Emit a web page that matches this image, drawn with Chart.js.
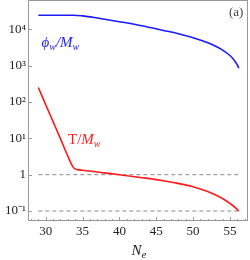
<!DOCTYPE html>
<html>
<head>
<meta charset="utf-8">
<script src="https://cdn.jsdelivr.net/npm/chart.js@4/dist/chart.umd.min.js"></script>
<style>body{margin:0;background:#fff}</style>
</head>
<body>
<canvas id="chart" width="250" height="260"></canvas>
<script>
// phi_w / M_w (blue)
var neBlue = [29, 33.8, 35, 37, 40, 43, 46, 48, 50, 52, 53, 54, 55, 55.5, 56, 56.2];
var phiOverM = [24500, 24500, 23400, 20400, 16200, 12600, 9330, 7590, 5890, 4270, 3470, 2690, 1905, 1480, 1047, 851];

// T / M_w (red)
var neRed = [29, 30, 31, 32, 33, 33.6, 33.9, 34.3, 35, 36, 38, 40, 42.8, 45, 47.3, 50, 51.8, 53, 54.1, 55, 55.7, 56.2];
var tOverM = [251, 85, 28.8, 9.8, 3.24, 1.78, 1.48, 1.38, 1.32, 1.26, 1.12, 1.0, 0.84, 0.733, 0.61, 0.468, 0.355, 0.279, 0.214, 0.162, 0.126, 0.1];

// dashed reference levels
var refLevels = [1, 0.1];
var refRange = [29, 56.2];

var xTicks = [30, 35, 40, 45, 50, 55];
var yTicks = [0.1, 1, 10, 100, 1000, 10000];
var yTickLabels = ['10\u207B\u00B9', '1', '10\u00B9', '10\u00B2', '10\u00B3', '10\u2074'];

var SERIF = 'Liberation Serif';

function zip(xs, ys) {
    var pts = [];
    for (var i = 0; i < xs.length; i++) pts.push({ x: xs[i], y: ys[i] });
    return pts;
}

function drawRich(ctx, x, y, parts, color) {
    ctx.fillStyle = color;
    ctx.textBaseline = 'alphabetic';
    ctx.textAlign = 'left';
    parts.forEach(function (p) {
        ctx.font = p.f;
        ctx.fillText(p.t, x, y + (p.dy || 0));
        x += ctx.measureText(p.t).width + (p.gap || 0);
    });
}

var framePlugin = {
    id: 'frame',
    afterDatasetsDraw: function (chart) {
        var ctx = chart.ctx, a = chart.chartArea;
        var xs = chart.scales.x, ys = chart.scales.y;
        ctx.save();
        ctx.strokeStyle = '#999';
        ctx.lineWidth = 1;
        ctx.strokeRect(a.left + 0.5, a.top + 0.5, a.right - a.left - 1, a.bottom - a.top - 1);
        ctx.beginPath();
        for (var n = Math.ceil(xs.min); n <= xs.max; n++) {
            var px = Math.round(xs.getPixelForValue(n)) + 0.5;
            var len = n % 5 === 0 ? 4 : 2;
            ctx.moveTo(px, a.bottom);
            ctx.lineTo(px, a.bottom - len);
        }
        yTicks.forEach(function (v) {
            var py = Math.round(ys.getPixelForValue(v)) + 0.5;
            ctx.moveTo(a.left, py);
            ctx.lineTo(a.left + 4, py);
        });
        ctx.stroke();

        var it15 = 'italic 15px ' + SERIF, it10 = 'italic 10px ' + SERIF;
        drawRich(ctx, 41.5, 47, [
            { t: '\u03D5', f: it15 }, { t: 'w', f: it10, dy: 3 },
            { t: '/M', f: it15 }, { t: 'w', f: it10, dy: 3 }
        ], '#1a1aff');
        drawRich(ctx, 68, 144, [
            { t: 'T/', f: '15px ' + SERIF }, { t: 'M', f: it15 }, { t: 'w', f: it10, dy: 3 }
        ], '#ff1a1a');
        drawRich(ctx, 229, 16, [{ t: '(a)', f: '13px ' + SERIF }], '#444');
        drawRich(ctx, 131.5, 255, [
            { t: 'N', f: it15 }, { t: 'e', f: 'italic 11px ' + SERIF, dy: 3 }
        ], '#222');
        ctx.restore();
    }
};

var datasets = [
    {
        data: zip(neBlue, phiOverM), showLine: true, pointRadius: 0,
        borderColor: '#1a1aff', borderWidth: 1.6, cubicInterpolationMode: 'monotone', fill: false
    },
    {
        data: zip(neRed, tOverM), showLine: true, pointRadius: 0,
        borderColor: '#ff1a1a', borderWidth: 1.6, cubicInterpolationMode: 'monotone', fill: false
    }
];
refLevels.forEach(function (lv) {
    datasets.push({
        data: [{ x: refRange[0], y: lv }, { x: refRange[1], y: lv }],
        showLine: true, pointRadius: 0, borderColor: '#888',
        borderWidth: 1, borderDash: [4, 3], fill: false
    });
});

var tickFont = { family: SERIF, size: 13 };

new Chart(document.getElementById('chart'), {
    type: 'scatter',
    data: { datasets: datasets },
    options: {
        responsive: false,
        animation: false,
        devicePixelRatio: 1,
        layout: { padding: { top: 0, right: 2, bottom: 0, left: 0 } },
        plugins: { legend: { display: false }, tooltip: { enabled: false } },
        scales: {
            x: {
                type: 'linear', min: 27.6, max: 57.45,
                grid: { display: false, drawTicks: false },
                border: { display: false },
                afterBuildTicks: function (s) { s.ticks = xTicks.map(function (v) { return { value: v }; }); },
                ticks: { padding: 3, font: tickFont, color: '#222', maxRotation: 0, autoSkip: false },
                afterFit: function (s) { s.height = 39; s.paddingLeft = 0; s.paddingRight = 0; }
            },
            y: {
                type: 'logarithmic', min: 0.0532, max: 64100,
                grid: { display: false, drawTicks: false },
                border: { display: false },
                afterBuildTicks: function (s) { s.ticks = yTicks.map(function (v) { return { value: v }; }); },
                ticks: {
                    padding: 2, font: tickFont, color: '#222', autoSkip: false,
                    callback: function (v) {
                        var i = yTicks.indexOf(v);
                        return i >= 0 ? yTickLabels[i] : '';
                    }
                },
                afterFit: function (s) { s.width = 28; s.paddingTop = 0; s.paddingBottom = 0; }
            }
        }
    },
    plugins: [framePlugin]
});
</script>
</body>
</html>
